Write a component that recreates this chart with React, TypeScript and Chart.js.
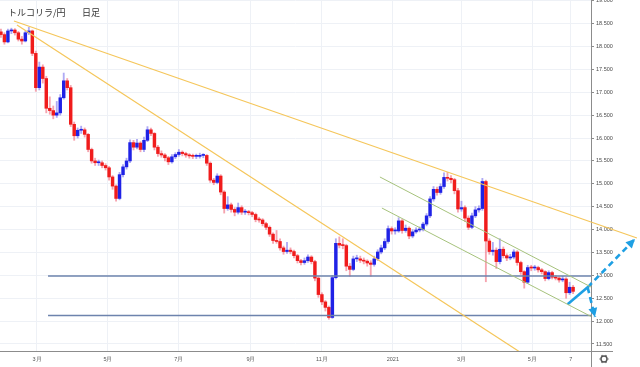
import React, { useEffect, useRef } from 'react';
import { Chart, registerables } from 'chart.js';

Chart.register(...registerables);

const titleMain = 'トルコリラ/円';
const titleSuffix = '日足';

// candle x positions: days since 2020-01-01
const firstDay = 29;
const dayStep = 3;
const firstOpen = 18.32;

const closes = [
  18.26, 18.10, 18.34, 18.36, 18.30, 18.16, 18.12, 18.30, 18.34, 17.85,
  17.10, 17.55, 17.30, 16.65, 16.60, 16.50, 16.55, 16.88, 17.25, 17.10,
  16.30, 16.05, 16.17, 16.18, 16.08, 15.75, 15.50, 15.46, 15.46, 15.40,
  15.35, 15.15, 14.95, 14.68, 15.20, 15.37, 15.50, 15.90, 15.80, 15.89,
  15.75, 15.95, 16.18, 16.10, 15.80, 15.66, 15.63, 15.57, 15.48, 15.59,
  15.64, 15.69, 15.66, 15.63, 15.61, 15.60, 15.60, 15.62, 15.62, 15.45,
  15.08, 15.03, 15.17, 14.82, 14.46, 14.54, 14.44, 14.38, 14.48, 14.38,
  14.38, 14.37, 14.33, 14.22, 14.21, 14.13, 14.05, 13.90, 13.76, 13.74,
  13.60, 13.52, 13.55, 13.52, 13.43, 13.32, 13.28, 13.32, 13.40, 13.30,
  12.94, 12.58, 12.42, 12.30, 12.08, 12.95, 13.70, 13.66, 13.65, 13.20,
  13.13, 13.36, 13.36, 13.33, 13.31, 13.27, 13.24, 13.36, 13.51, 13.60,
  13.74, 14.02, 13.97, 13.97, 14.19, 13.98, 14.03, 13.86, 13.95, 13.99,
  14.00, 14.12, 14.30, 14.67, 14.88, 14.81, 14.94, 15.14, 15.12, 15.09,
  14.85, 14.45, 14.48, 14.25, 14.05, 14.30, 14.43, 14.46, 15.05, 13.75,
  13.52, 13.55, 13.30, 13.57, 13.43, 13.38, 13.40, 13.51, 13.28, 13.08,
  12.85, 13.17, 13.16, 13.17, 13.12, 13.08, 12.93, 13.06, 12.96, 12.94,
  12.90, 12.92, 12.62, 12.74, 12.65,
];

const highs = [
  18.38, 18.30, 18.38, 18.40, 18.39, 18.33, 18.22, 18.34, 18.42, 18.36,
  17.90, 17.66, 17.60, 17.35, 16.90, 16.70, 16.80, 16.95, 17.42, 17.30,
  17.15, 16.35, 16.22, 16.26, 16.22, 16.10, 15.78, 15.56, 15.52, 15.50,
  15.44, 15.38, 15.18, 14.98, 15.25, 15.42, 15.56, 15.96, 15.95, 15.97,
  15.92, 16.02, 16.25, 16.22, 16.12, 15.84, 15.72, 15.66, 15.60, 15.64,
  15.68, 15.75, 15.72, 15.69, 15.66, 15.65, 15.65, 15.67, 15.66, 15.64,
  15.48, 15.12, 15.22, 15.20, 14.85, 14.72, 14.58, 14.48, 14.58, 14.52,
  14.44, 14.42, 14.40, 14.36, 14.27, 14.24, 14.16, 14.08, 13.93, 13.98,
  13.80, 13.64, 13.72, 13.60, 13.55, 13.46, 13.35, 13.38, 13.45, 13.43,
  13.33, 12.97, 12.62, 12.45, 12.33, 13.00, 13.80, 13.84, 13.80, 13.68,
  13.26, 13.42, 13.44, 13.42, 13.38, 13.34, 13.32, 13.42, 13.56, 13.66,
  13.80, 14.08, 14.06, 14.04, 14.26, 14.22, 14.10, 14.06, 14.00, 14.04,
  14.06, 14.16, 14.35, 14.72, 14.94, 14.93, 15.00, 15.24, 15.25, 15.18,
  15.12, 14.90, 14.62, 14.52, 14.30, 14.36, 14.50, 14.52, 15.12, 15.08,
  13.80, 13.72, 13.60, 13.80, 13.62, 13.47, 13.46, 13.56, 13.54, 13.31,
  13.10, 13.22, 13.22, 13.22, 13.20, 13.15, 13.10, 13.10, 13.09, 13.00,
  12.97, 12.98, 12.95, 12.85, 12.78,
];

const lows = [
  18.20, 18.05, 18.08, 18.28, 18.25, 18.12, 18.05, 18.10, 18.26, 17.80,
  17.02, 17.05, 17.20, 16.55, 16.52, 16.42, 16.45, 16.50, 16.85, 17.05,
  16.25, 15.95, 16.00, 16.10, 16.02, 15.70, 15.45, 15.40, 15.40, 15.35,
  15.30, 15.08, 14.88, 14.62, 14.65, 15.15, 15.32, 15.46, 15.74, 15.76,
  15.70, 15.70, 15.92, 16.05, 15.74, 15.60, 15.58, 15.50, 15.42, 15.45,
  15.55, 15.60, 15.61, 15.58, 15.56, 15.55, 15.55, 15.56, 15.57, 15.40,
  15.03, 14.98, 15.00, 14.76, 14.36, 14.42, 14.38, 14.30, 14.34, 14.33,
  14.33, 14.32, 14.28, 14.17, 14.16, 14.08, 14.00, 13.85, 13.70, 13.70,
  13.55, 13.46, 13.48, 13.47, 13.38, 13.27, 13.23, 13.24, 13.28, 13.25,
  12.88, 12.52, 12.36, 12.22, 12.04, 12.06, 12.92, 13.60, 13.58, 13.10,
  12.98, 13.10, 13.30, 13.28, 13.25, 13.20, 12.98, 13.20, 13.32, 13.47,
  13.56, 13.70, 13.90, 13.90, 13.94, 13.92, 13.94, 13.80, 13.82, 13.92,
  13.95, 13.97, 14.08, 14.26, 14.62, 14.75, 14.77, 14.90, 15.06, 15.02,
  14.78, 14.38, 14.40, 14.18, 14.00, 14.02, 14.26, 14.38, 14.42, 12.86,
  13.46, 13.44, 13.15, 13.25, 13.38, 13.32, 13.34, 13.36, 13.22, 13.02,
  12.72, 12.82, 13.10, 13.11, 13.07, 13.03, 12.88, 12.90, 12.92, 12.90,
  12.85, 12.86, 12.50, 12.58, 12.60,
];

const xTickDays = [60, 121, 182, 244, 305, 366, 425, 486, 519];
const xTickLabels = ['3月', '5月', '7月', '9月', '11月', '2021', '3月', '5月', '7'];
const yTicks = [11.5, 12, 12.5, 13, 13.5, 14, 14.5, 15, 15.5, 16, 16.5, 17, 17.5, 18, 18.5, 19];

const xMin = 28.2;
const xMax = 536.4;
const yMin = 11.347;
const yMax = 19.016;

// drawn lines: [day, price]
const resistanceLong = [[40.2, 18.557], [575.9, 13.816]];
const resistanceSteep = [[42.8, 18.47], [492.5, 11.04]];
const channelUpper = [[354.9, 15.149], [536.4, 12.745]];
const channelLower = [[356.6, 14.471], [538.9, 12.068]];
const supportUpper = [[69.5, 12.985], [536.4, 12.985]];
const supportLower = [[69.5, 12.12], [536.4, 12.12]];
const projectionSolid = [[516.3, 12.367], [533.5, 12.739]];
const projectionUp = [[533.5, 12.739], [574.2, 13.794]];
const projectionDown = [[533.5, 12.739], [539.8, 12.09]];

const RED = '#f01c1c';
const BLUE = '#1f22e6';
const RED_WICK = 'rgba(238,90,110,0.55)';
const BLUE_WICK = 'rgba(110,100,235,0.55)';
const YELLOW = '#f5c65a';
const GREEN = '#a6c27c';
const SLATE = '#6d83ad';
const ARROW = '#1e9fe3';
const AXIS = '#8c8c8c';
const GRID = '#eef1f6';

function lineDs(points: number[][], color: string, extra: any = {}) {
  return {
    type: 'line' as const,
    data: points.map((p) => ({ x: p[0], y: p[1] })),
    borderColor: color,
    borderWidth: 1.2,
    pointRadius: 0,
    tension: 0,
    fill: false,
    order: 0,
    ...extra,
  };
}

const overlayPlugin = {
  id: 'overlay',
  afterDatasetsDraw(chart: any) {
    const ctx = chart.ctx;
    chart.data.datasets.forEach((ds: any, i: number) => {
      if (!ds.arrowEnd) return;
      const pts = chart.getDatasetMeta(i).data;
      const a = pts[pts.length - 2];
      const b = pts[pts.length - 1];
      const ang = Math.atan2(b.y - a.y, b.x - a.x);
      const len = 9;
      const half = 4.5;
      ctx.save();
      ctx.fillStyle = ds.borderColor;
      ctx.translate(b.x, b.y);
      ctx.rotate(ang);
      ctx.beginPath();
      ctx.moveTo(0, 0);
      ctx.lineTo(-len, -half);
      ctx.lineTo(-len, half);
      ctx.closePath();
      ctx.fill();
      ctx.restore();
    });
  },
  afterDraw(chart: any) {
    const ctx = chart.ctx;
    const area = chart.chartArea;
    ctx.save();
    ctx.fillStyle = '#333';
    ctx.font = '9px "Noto Sans CJK JP", sans-serif';
    ctx.textBaseline = 'middle';
    ctx.textAlign = 'left';
    ctx.fillText(titleMain, 8, 12.5);
    ctx.fillText(titleSuffix, 82, 12.5);
    // axis corner
    ctx.strokeStyle = AXIS;
    ctx.lineWidth = 1;
    ctx.beginPath();
    ctx.moveTo(area.right + 0.5, area.bottom);
    ctx.lineTo(area.right + 0.5, chart.height);
    ctx.moveTo(area.right, area.bottom + 0.5);
    ctx.lineTo(area.right + 22, area.bottom + 0.5);
    ctx.stroke();
    // settings gear
    const gx = area.right + 13;
    const gy = area.bottom + 8;
    ctx.strokeStyle = '#555';
    ctx.lineWidth = 1.4;
    ctx.beginPath();
    ctx.arc(gx, gy, 3, 0, Math.PI * 2);
    ctx.stroke();
    ctx.lineWidth = 1.2;
    ctx.beginPath();
    for (let k = 0; k < 6; k++) {
      const t = (k * Math.PI) / 3;
      ctx.moveTo(gx + Math.cos(t) * 3.4, gy + Math.sin(t) * 3.4);
      ctx.lineTo(gx + Math.cos(t) * 4.6, gy + Math.sin(t) * 4.6);
    }
    ctx.stroke();
    ctx.restore();
  },
};

export default function App() {
  const ref = useRef<HTMLCanvasElement>(null);

  useEffect(() => {
    if (!ref.current) return;
    const opens = closes.map((_, i) => (i === 0 ? firstOpen : closes[i - 1]));
    const days = closes.map((_, i) => firstDay + i * dayStep);
    const rising = closes.map((c, i) => c >= opens[i]);

    const chart = new Chart(ref.current, {
      type: 'bar',
      data: {
        datasets: [
          lineDs(resistanceLong, YELLOW, { clip: false }),
          lineDs(resistanceSteep, YELLOW),
          lineDs(channelUpper, GREEN, { borderWidth: 1 }),
          lineDs(channelLower, GREEN, { borderWidth: 1 }),
          lineDs(supportUpper, SLATE, { borderWidth: 1.5 }),
          lineDs(supportLower, SLATE, { borderWidth: 1.5 }),
          lineDs(projectionSolid, ARROW, { borderWidth: 2.6, clip: false }),
          lineDs(projectionUp, ARROW, { borderWidth: 2.6, borderDash: [6, 4], clip: false, arrowEnd: true }),
          lineDs(projectionDown, ARROW, { borderWidth: 2.6, borderDash: [6, 4], clip: false, arrowEnd: true }),
          {
            type: 'bar' as const,
            data: days.map((d, i) => ({ x: d, y: [opens[i], closes[i]] })) as any,
            backgroundColor: rising.map((r) => (r ? BLUE : RED)),
            barThickness: 2.8,
            minBarLength: 1,
            grouped: false,
            borderWidth: 0,
            order: 1,
          },
          {
            type: 'bar' as const,
            data: days.map((d, i) => ({ x: d, y: [lows[i], highs[i]] })) as any,
            backgroundColor: rising.map((r) => (r ? BLUE_WICK : RED_WICK)),
            barThickness: 1.2,
            grouped: false,
            borderWidth: 0,
            order: 2,
          },
        ] as any,
      },
      options: {
        responsive: false,
        animation: false,
        events: [],
        layout: { padding: 0 },
        plugins: { legend: { display: false }, tooltip: { enabled: false } },
        scales: {
          x: {
            type: 'linear',
            min: xMin,
            max: xMax,
            offset: false,
            grid: { color: GRID, drawTicks: false, offset: false },
            border: { display: true, color: AXIS, width: 1 },
            ticks: {
              autoSkip: false,
              maxRotation: 0,
              padding: 5,
              color: '#555',
              font: { size: 5.5, family: '"Liberation Sans", Arial, sans-serif' },
              callback: (_v: any, i: number) => xTickLabels[i],
            },
            afterBuildTicks: (s: any) => {
              s.ticks = xTickDays.map((v) => ({ value: v }));
            },
            afterFit: (s: any) => {
              s.height = 16;
              s.paddingLeft = 0;
              s.paddingRight = 0;
            },
          },
          y: {
            type: 'linear',
            position: 'right',
            min: yMin,
            max: yMax,
            grid: { color: GRID, tickColor: AXIS, tickLength: 3 },
            border: { display: true, color: AXIS, width: 1 },
            ticks: {
              padding: 2,
              color: '#4a4a4a',
              font: { size: 5.5, family: '"Liberation Sans", Arial, sans-serif' },
              callback: (v: any) => Number(v).toFixed(3),
            },
            afterBuildTicks: (s: any) => {
              s.ticks = yTicks.map((v) => ({ value: v }));
            },
            afterFit: (s: any) => {
              s.width = 49;
              s.paddingTop = 0;
              s.paddingBottom = 0;
            },
          },
        },
      } as any,
      plugins: [overlayPlugin],
    });
    return () => chart.destroy();
  }, []);

  return (
    <div style={{ position: 'fixed', left: 0, top: 0, width: 640, height: 367, background: '#fff' }}>
      <canvas ref={ref} width={640} height={367} style={{ display: 'block' }} />
    </div>
  );
}
